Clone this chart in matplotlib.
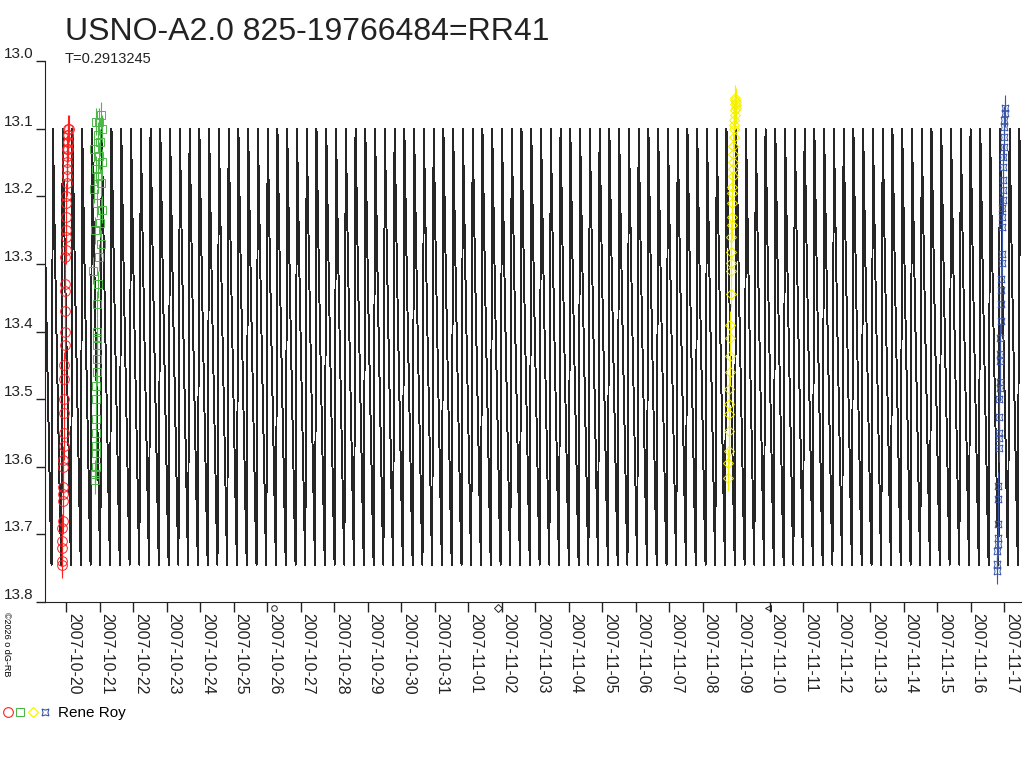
import matplotlib
matplotlib.use("Agg")
import matplotlib.pyplot as plt
from matplotlib.lines import Line2D
from matplotlib.legend_handler import HandlerTuple
import numpy as np
import pandas as pd

plt.rcParams['font.family'] = ['Liberation Sans', 'DejaVu Sans']

# star and ephemeris
star_name = "USNO-A2.0 825-19766484=RR41"
period = 0.2913245
epoch = 393.40          # JD - 2454000
jd_base = 2454000.0

# one cycle of the model light curve (phase, mag)
lc_phase = [0.00, 0.08, 0.20, 0.35, 0.50, 0.65, 0.78, 0.86, 0.93]
lc_mag = [13.10, 13.17, 13.27, 13.39, 13.50, 13.61, 13.70, 13.745, 13.40]

# observations by Rene Roy, JD - 2454000
red_t = [393.372, 393.377, 393.381, 393.386, 393.392, 393.396, 393.401, 393.405, 393.411, 393.416,
         393.420, 393.426, 393.431, 393.435, 393.440, 393.446, 393.451, 393.455, 393.461, 393.466,
         393.470, 393.476, 393.481, 393.486, 393.491, 393.495, 393.501, 393.506, 393.511, 393.515,
         393.521, 393.526, 393.530, 393.536, 393.541, 393.545, 393.551, 393.556, 393.561, 393.566,
         393.570, 393.576]
red_m = [13.745, 13.74, 13.72, 13.71, 13.69, 13.68, 13.65, 13.64, 13.63, 13.60,
         13.59, 13.57, 13.55, 13.52, 13.50, 13.47, 13.45, 13.42, 13.40, 13.37,
         13.34, 13.33, 13.29, 13.28, 13.26, 13.25, 13.23, 13.21, 13.20, 13.18,
         13.17, 13.15, 13.16, 13.14, 13.13, 13.12, 13.13, 13.11, 13.12, 13.10,
         13.11, 13.10]

green_t = [394.372, 394.378, 394.381, 394.386, 394.390, 394.395, 394.399, 394.404, 394.409, 394.413,
           394.418, 394.422, 394.427, 394.431, 394.436, 394.441, 394.31, 394.47, 394.55, 394.36,
           394.50, 394.58, 394.42, 394.33, 394.53, 394.45, 394.39, 394.57, 394.48, 394.34,
           394.52, 394.44, 394.56, 394.40, 394.49, 394.54]
green_m = [13.62, 13.61, 13.60, 13.58, 13.57, 13.55, 13.53, 13.50, 13.48, 13.46,
           13.44, 13.42, 13.41, 13.40, 13.36, 13.33, 13.31, 13.29, 13.27, 13.25,
           13.24, 13.22, 13.21, 13.19, 13.18, 13.17, 13.16, 13.15, 13.14, 13.13,
           13.12, 13.11, 13.10, 13.09, 13.09, 13.08]

yellow_t = [413.262, 413.268, 413.275, 413.281, 413.287, 413.294, 413.300, 413.306, 413.313, 413.319,
            413.325, 413.332, 413.338, 413.344, 413.351, 413.357, 413.363, 413.370, 413.376, 413.382,
            413.389, 413.395, 413.401, 413.408, 413.414, 413.420, 413.427, 413.433, 413.439, 413.446,
            413.452, 413.458, 413.465, 413.471, 413.477, 413.484, 413.490, 413.496]
yellow_m = [13.616, 13.594, 13.576, 13.547, 13.522, 13.507, 13.485, 13.46, 13.436, 13.409,
            13.39, 13.344, 13.31, 13.298, 13.283, 13.26, 13.243, 13.23, 13.21, 13.195,
            13.186, 13.17, 13.16, 13.15, 13.137, 13.125, 13.112, 13.10, 13.095, 13.087,
            13.08, 13.072, 13.063, 13.058, 13.055, 13.06, 13.065, 13.07]

blue_t = [421.281, 421.287, 421.293, 421.300, 421.306, 421.312, 421.319, 421.325, 421.331, 421.338,
          421.344, 421.350, 421.357, 421.363, 421.369, 421.376, 421.382, 421.388, 421.395, 421.401,
          421.407, 421.414, 421.420, 421.426, 421.433, 421.439, 421.445, 421.452, 421.458, 421.464,
          421.471, 421.477, 421.483, 421.490, 421.496, 421.502, 421.509, 421.515]
blue_m = [13.754, 13.744, 13.724, 13.714, 13.705, 13.685, 13.647, 13.628, 13.573, 13.557,
          13.55, 13.527, 13.50, 13.483, 13.475, 13.443, 13.433, 13.409, 13.384, 13.359,
          13.339, 13.322, 13.298, 13.285, 13.246, 13.231, 13.218, 13.206, 13.191, 13.176,
          13.157, 13.142, 13.127, 13.112, 13.097, 13.087, 13.077, 13.07]
mag_err = 0.02

# moon phases (JD - 2454000)
moon_t = [399.70, 406.39, 414.46]
moon_sym = ['o', 'D', '<']

x_start, x_end = 392.873, 422.0
y_ticks = [13.0, 13.1, 13.2, 13.3, 13.4, 13.5, 13.6, 13.7, 13.8]


def to_date(jd):
    return pd.to_datetime(np.asarray(jd) + jd_base - 2440587.5, unit='D')


fig = plt.figure(figsize=(10.24, 7.68), dpi=100)
ax = fig.add_axes([45 / 1024, 1 - 602 / 768, 976 / 1024, 541 / 768])

# model curve, tiled over the whole range
n0 = int(np.floor((x_start - epoch) / period)) - 1
n1 = int(np.ceil((x_end - epoch) / period)) + 1
cycles = np.arange(n0, n1)
lc_t = (epoch + (cycles[:, None] + np.array(lc_phase)[None, :]) * period).ravel()
lc_y = np.tile(lc_mag, len(cycles))
ax.plot(to_date(lc_t), lc_y, color='#262626', lw=0.7, antialiased=False, zorder=1)

series = [
    (red_t, red_m, '#ff2020', 'o', 7),
    (green_t, green_m, '#4cb848', 's', 6),
    (yellow_t, yellow_m, '#f5f000', 'D', 5.5),
    (blue_t, blue_m, '#3a56a8', (4, 1, 45), 7),
]
handles = []
for t, m, c, mk, ms in series:
    ax.errorbar(to_date(t), m, yerr=mag_err, fmt='none', ecolor=c, elinewidth=0.8, zorder=2)
    ax.plot(to_date(t), m, ls='none', marker=mk, ms=ms, mfc='none', mec=c, mew=0.7, zorder=3)
    handles.append(Line2D([], [], ls='none', marker=mk, ms=ms, mfc='none', mec=c, mew=0.8))

# moon phase symbols just under the axis
for t, s in zip(moon_t, moon_sym):
    ax.plot(to_date([t]), [-0.012], transform=ax.get_xaxis_transform(), marker=s,
            ms=4, mfc='none', mec='#222222', mew=0.7, clip_on=False)

ax.set_xlim(to_date([x_start])[0], to_date([x_end])[0])
ax.set_ylim(13.8, 13.0)

tick_dates = pd.date_range('2007-10-20', '2007-11-17', freq='D')
ax.set_xticks(tick_dates)
ax.set_xticklabels(tick_dates.strftime('%Y-%m-%d'), rotation=270, ha='left', va='top',
                   fontsize=11.5, color='#222222')
ax.set_yticks(y_ticks)
ax.set_yticklabels(['%.1f' % v for v in y_ticks], fontsize=11, color='#222222')
for lab in ax.get_yticklabels():
    lab.set_va('bottom')
ax.tick_params(axis='x', direction='out', length=7, width=1, pad=1, colors='#222222')
ax.tick_params(axis='y', direction='out', length=6.5, width=1, pad=2, colors='#222222')

for side in ['top', 'right']:
    ax.spines[side].set_visible(False)
for side in ['left', 'bottom']:
    ax.spines[side].set_color('#222222')

fig.text(65 / 1024, 1 - 40 / 768, star_name, fontsize=23, color='#222222', va='baseline')
fig.text(65 / 1024, 1 - 63 / 768, 'T=%.7f' % period, fontsize=10.5, color='#222222', va='baseline')
fig.text(2 / 1024, 1 - 612 / 768, '©2026 o dG-RB', rotation=270, fontsize=6.5, ha='left', va='top')

fig.legend(handles=[tuple(handles)], labels=['Rene Roy'],
           handler_map={tuple: HandlerTuple(ndivide=None, pad=0.15)},
           loc='center left', bbox_to_anchor=(3 / 1024, 1 - 713 / 768), frameon=False,
           handlelength=3.1, handletextpad=0.5, borderpad=0, borderaxespad=0,
           prop={'size': 11})

fig.savefig('out.png', dpi=100)
